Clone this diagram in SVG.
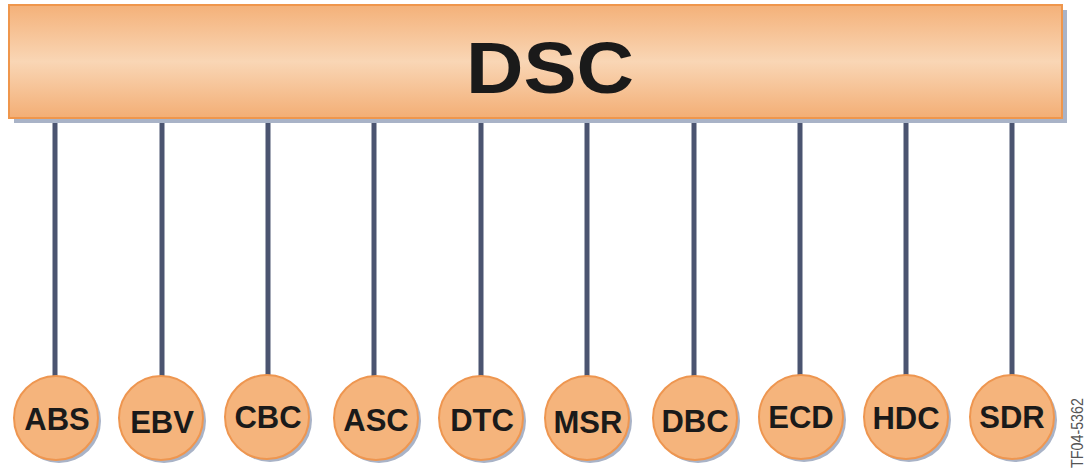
<svg xmlns="http://www.w3.org/2000/svg" width="1090" height="470" viewBox="0 0 1090 470">
<defs>
<linearGradient id="barGrad" x1="0" y1="0" x2="0" y2="1">
<stop offset="0" stop-color="#f4b179"/>
<stop offset="0.5" stop-color="#f9d6b5"/>
<stop offset="1" stop-color="#f3ae75"/>
</linearGradient>
<style>
.conn{stroke:#4b5470;stroke-width:5;fill:none}
.shadow{fill:#a9b3c7}
.node{fill:#f5b47c;stroke:#ee9650;stroke-width:2}
.lbl{font-family:"Liberation Sans",Arial,sans-serif;font-weight:bold;font-size:31px;fill:#1a1a1a;text-anchor:middle}
</style>
</defs>
<rect width="1090" height="470" fill="#ffffff"/>
<g id="connectors">
<line class="conn" x1="55" y1="118" x2="55" y2="378"/>
<line class="conn" x1="162" y1="118" x2="162" y2="378"/>
<line class="conn" x1="268" y1="118" x2="268" y2="378"/>
<line class="conn" x1="374" y1="118" x2="374" y2="378"/>
<line class="conn" x1="481" y1="118" x2="481" y2="378"/>
<line class="conn" x1="587" y1="118" x2="587" y2="378"/>
<line class="conn" x1="694" y1="118" x2="694" y2="378"/>
<line class="conn" x1="800" y1="118" x2="800" y2="378"/>
<line class="conn" x1="906" y1="118" x2="906" y2="378"/>
<line class="conn" x1="1012" y1="118" x2="1012" y2="378"/>
</g>
<g id="DSC">
<rect class="shadow" x="14" y="10" width="1053" height="113"/>
<rect x="9" y="5" width="1053" height="113" fill="url(#barGrad)" stroke="#ef964c" stroke-width="2"/>
<text x="550" y="93" font-family="Liberation Sans, Arial, sans-serif" font-weight="bold" font-size="72" fill="#1a1a1a" text-anchor="middle" textLength="168" lengthAdjust="spacingAndGlyphs">DSC</text>
</g>
<g id="ABS"><circle class="shadow" cx="59" cy="421" r="42"/><circle class="node" cx="56" cy="418" r="42"/><text class="lbl" x="57" y="430">ABS</text></g>
<g id="EBV"><circle class="shadow" cx="164" cy="421" r="42"/><circle class="node" cx="161" cy="418" r="42"/><text class="lbl" x="162" y="433">EBV</text></g>
<g id="CBC"><circle class="shadow" cx="270" cy="420" r="42"/><circle class="node" cx="267" cy="417" r="42"/><text class="lbl" x="268" y="428">CBC</text></g>
<g id="ASC"><circle class="shadow" cx="379" cy="421" r="42"/><circle class="node" cx="376" cy="418" r="42"/><text class="lbl" x="376" y="431">ASC</text></g>
<g id="DTC"><circle class="shadow" cx="484" cy="421" r="42"/><circle class="node" cx="481" cy="418" r="42"/><text class="lbl" x="482" y="431">DTC</text></g>
<g id="MSR"><circle class="shadow" cx="590" cy="421" r="42"/><circle class="node" cx="587" cy="418" r="42"/><text class="lbl" x="588" y="433">MSR</text></g>
<g id="DBC"><circle class="shadow" cx="698" cy="421" r="42"/><circle class="node" cx="695" cy="418" r="42"/><text class="lbl" x="695" y="432">DBC</text></g>
<g id="ECD"><circle class="shadow" cx="804" cy="420" r="42"/><circle class="node" cx="801" cy="417" r="42"/><text class="lbl" x="801" y="428">ECD</text></g>
<g id="HDC"><circle class="shadow" cx="909" cy="420" r="42"/><circle class="node" cx="906" cy="417" r="42"/><text class="lbl" x="906" y="429">HDC</text></g>
<g id="SDR"><circle class="shadow" cx="1015" cy="420" r="42"/><circle class="node" cx="1012" cy="417" r="42"/><text class="lbl" x="1012" y="428">SDR</text></g>
<text x="0" y="0" transform="translate(1083,433) rotate(-90)" font-family="Liberation Sans, Arial, sans-serif" font-size="17" fill="#555555" text-anchor="middle" textLength="70" lengthAdjust="spacingAndGlyphs">TF04-5362</text>
</svg>
